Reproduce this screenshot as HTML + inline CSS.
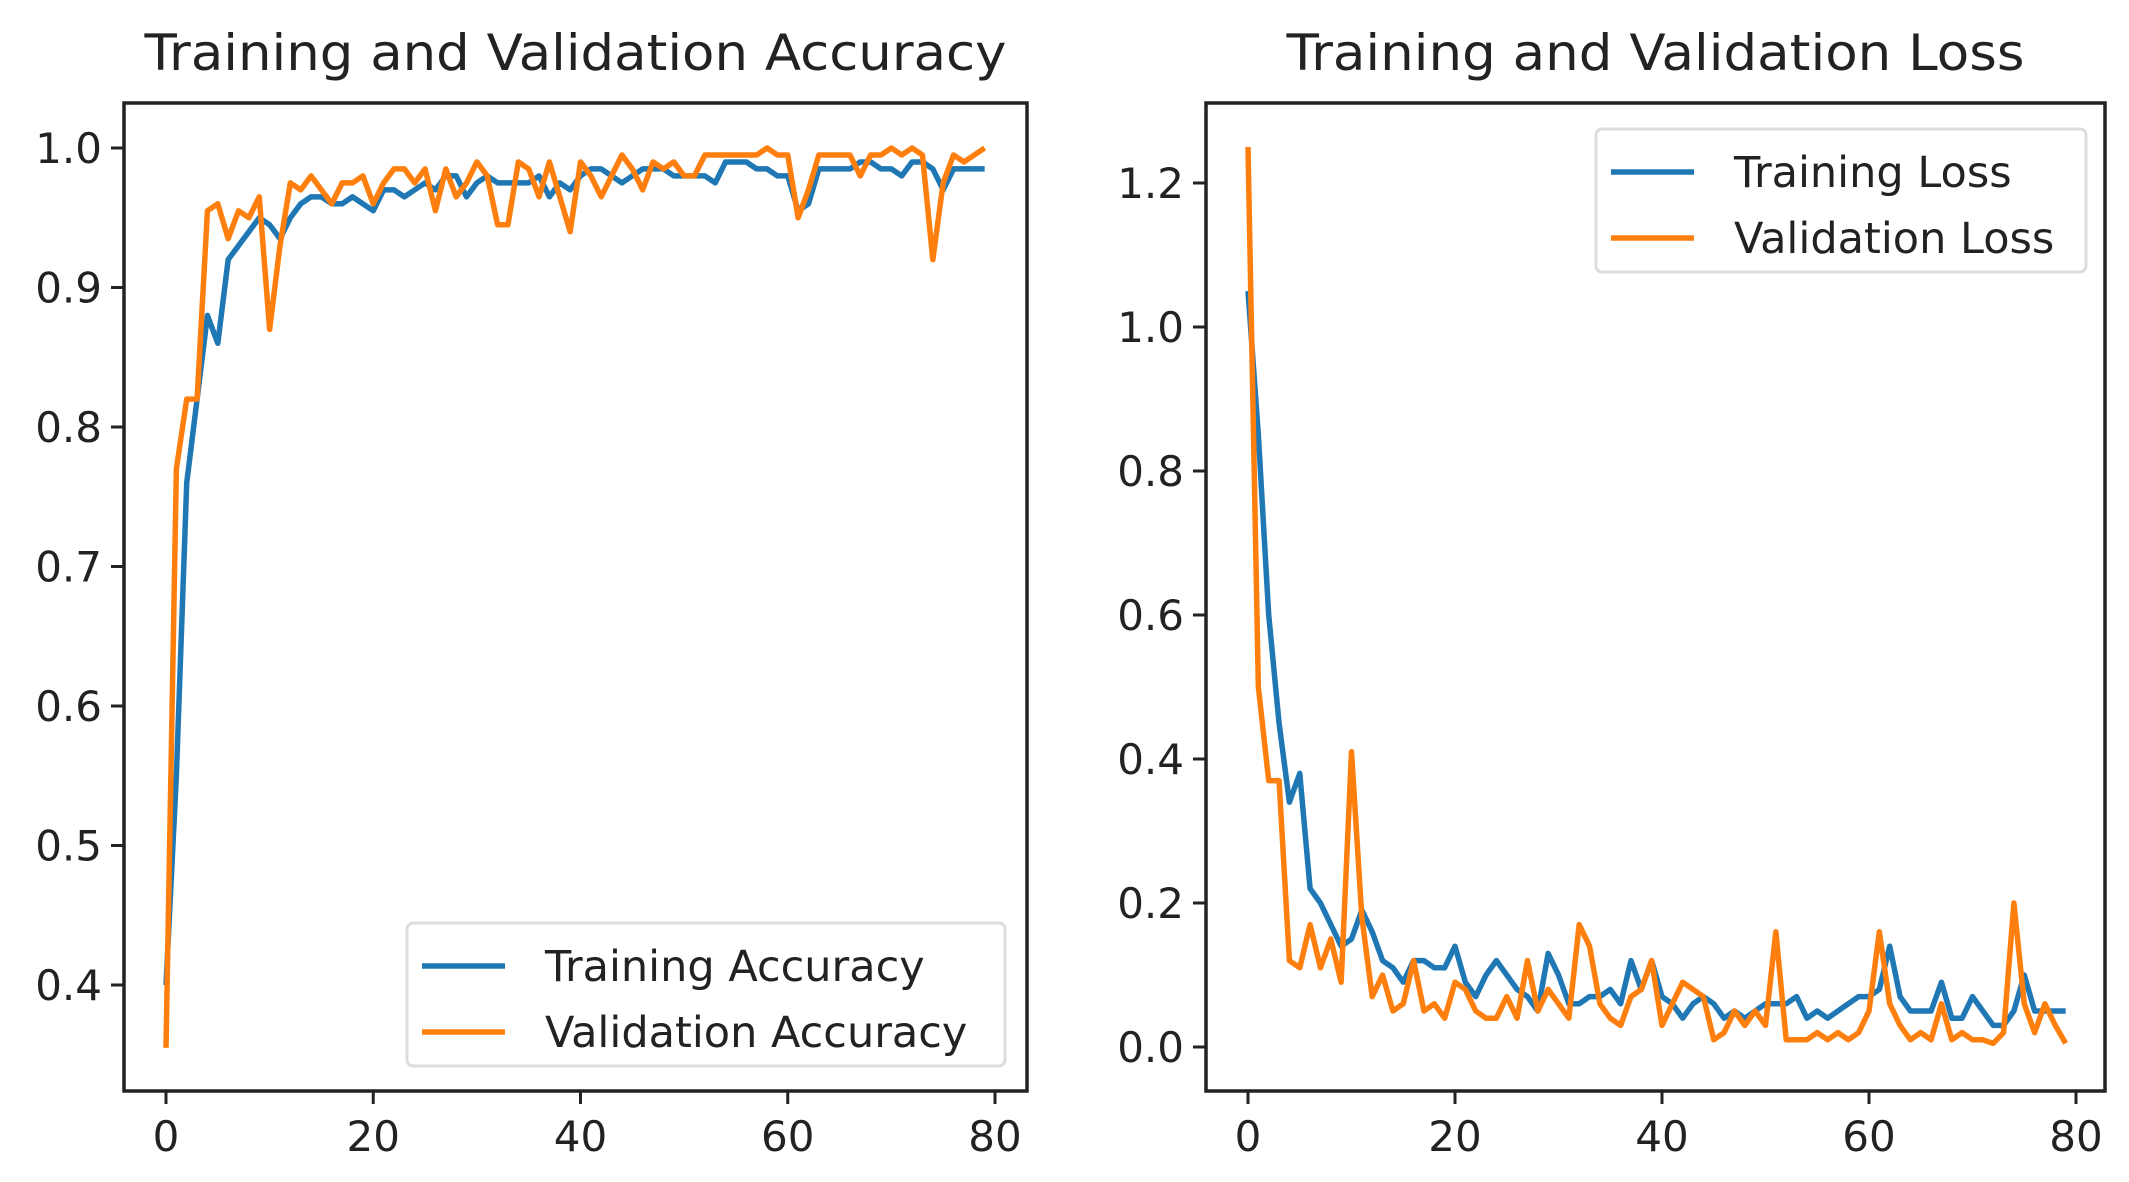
<!DOCTYPE html>
<html><head><meta charset="utf-8"><style>
html,body{margin:0;padding:0;background:#fff;}
svg{display:block;font-family:"DejaVu Sans","Liberation Sans",sans-serif;}
</style></head><body>
<svg id="fig" width="2129" height="1182" viewBox="0 0 2129 1182"></svg>
<script>
const epochs = Array.from({length:80},(_,i)=>i);
const trainAcc = [0.40,0.55,0.76,0.82,0.88,0.86,0.92,0.93,0.94,0.95,0.945,0.935,0.95,0.96,0.965,0.965,0.96,0.96,0.965,0.96,0.955,0.97,0.97,0.965,0.97,0.975,0.97,0.98,0.98,0.965,0.975,0.98,0.975,0.975,0.975,0.975,0.98,0.965,0.975,0.97,0.98,0.985,0.985,0.98,0.975,0.98,0.985,0.985,0.985,0.98,0.98,0.98,0.98,0.975,0.99,0.99,0.99,0.985,0.985,0.98,0.98,0.955,0.96,0.985,0.985,0.985,0.985,0.99,0.99,0.985,0.985,0.98,0.99,0.99,0.985,0.97,0.985,0.985,0.985,0.985];
const valAcc = [0.355,0.77,0.82,0.82,0.955,0.96,0.935,0.955,0.95,0.965,0.87,0.93,0.975,0.97,0.98,0.97,0.96,0.975,0.975,0.98,0.96,0.975,0.985,0.985,0.975,0.985,0.955,0.985,0.965,0.975,0.99,0.98,0.945,0.945,0.99,0.985,0.965,0.99,0.965,0.94,0.99,0.98,0.965,0.98,0.995,0.985,0.97,0.99,0.985,0.99,0.98,0.98,0.995,0.995,0.995,0.995,0.995,0.995,1.0,0.995,0.995,0.95,0.97,0.995,0.995,0.995,0.995,0.98,0.995,0.995,1.0,0.995,1.0,0.995,0.92,0.975,0.995,0.99,0.995,1.0];
const trainLoss = [1.05,0.85,0.6,0.45,0.34,0.38,0.22,0.2,0.17,0.14,0.15,0.19,0.16,0.12,0.11,0.09,0.12,0.12,0.11,0.11,0.14,0.09,0.07,0.1,0.12,0.1,0.08,0.07,0.05,0.13,0.1,0.06,0.06,0.07,0.07,0.08,0.06,0.12,0.08,0.12,0.07,0.06,0.04,0.06,0.07,0.06,0.04,0.05,0.04,0.05,0.06,0.06,0.06,0.07,0.04,0.05,0.04,0.05,0.06,0.07,0.07,0.08,0.14,0.07,0.05,0.05,0.05,0.09,0.04,0.04,0.07,0.05,0.03,0.03,0.05,0.1,0.05,0.05,0.05,0.05];
const valLoss = [1.25,0.5,0.37,0.37,0.12,0.11,0.17,0.11,0.15,0.09,0.41,0.18,0.07,0.1,0.05,0.06,0.12,0.05,0.06,0.04,0.09,0.08,0.05,0.04,0.04,0.07,0.04,0.12,0.05,0.08,0.06,0.04,0.17,0.14,0.06,0.04,0.03,0.07,0.08,0.12,0.03,0.06,0.09,0.08,0.07,0.01,0.02,0.05,0.03,0.05,0.03,0.16,0.01,0.01,0.01,0.02,0.01,0.02,0.01,0.02,0.05,0.16,0.06,0.03,0.01,0.02,0.01,0.06,0.01,0.02,0.01,0.01,0.005,0.02,0.2,0.06,0.02,0.06,0.03,0.005];
const xTicks = [0,20,40,60,80];
const accTicks = [0.4,0.5,0.6,0.7,0.8,0.9,1.0];
const lossTicks = [0.0,0.2,0.4,0.6,0.8,1.0,1.2];

const NS="http://www.w3.org/2000/svg";
const svg=document.getElementById('fig');
function mk(tag,attrs,parent){const e=document.createElementNS(NS,tag);for(const k in attrs)e.setAttribute(k,attrs[k]);(parent||svg).appendChild(e);return e;}

function panel(cfg){
  const g=mk('g',{});
  
  
  const sx=v=>cfg.x0px+(v-0)*(cfg.x80px-cfg.x0px)/80;
  const sy=v=>cfg.yRefPx+(cfg.yRefVal-v)*cfg.pxPerUnit;
  xTicks.forEach(t=>{
    const l=mk('line',{x1:sx(t),x2:sx(t),y1:cfg.B,y2:cfg.B+13,stroke:'#222','stroke-width':3},g);
    
    
    const tx=mk('text',{x:sx(t),y:cfg.B+60,'font-size':42,'text-anchor':'middle',fill:'#222'},g);
    tx.textContent=String(t);
    
    
  });
  cfg.yTicks.forEach(t=>{
    const l=mk('line',{x1:cfg.L-13,x2:cfg.L,y1:sy(t),y2:sy(t),stroke:'#222','stroke-width':3},g);
    
    
    const tx=mk('text',{x:cfg.L-22,y:sy(t)+15,'font-size':42,'text-anchor':'end',fill:'#222'},g);
    tx.textContent=t.toFixed(1);
    
    
  });
  const series=[[cfg.s1,'#1f77b4',cfg.n1],[cfg.s2,'#ff7f0e',cfg.n2]];
  series.forEach(([d,c,n])=>{
    const p=mk('polyline',{points:d.map((v,i)=>sx(epochs[i])+','+sy(v)).join(' '),fill:'none',stroke:c,'stroke-width':5.5,'stroke-linejoin':'round'},g);
    
    
  });
  const fr=mk('rect',{x:cfg.L,y:cfg.T,width:cfg.R-cfg.L,height:cfg.B-cfg.T,fill:'none',stroke:'#222','stroke-width':3.5},g);
  
  
  const ti=mk('text',{x:(cfg.L+cfg.R)/2,y:70,'font-size':50,'text-anchor':'middle',fill:'#222',textLength:cfg.titleLen,lengthAdjust:'spacingAndGlyphs'},g);
  ti.textContent=cfg.title;
  
  
  const lg=mk('g',{},g);
  
  
  mk('rect',{x:cfg.lx,y:cfg.ly,width:cfg.lw,height:143,rx:6,fill:'#fff','fill-opacity':0.85,stroke:'#ddd','stroke-width':3},lg);
  series.forEach(([d,c,n],i)=>{
    const yy=cfg.ly+43+i*66;
    const e=mk('g',{},lg);
    
    
    mk('line',{x1:cfg.lx+15,x2:cfg.lx+98,y1:yy,y2:yy,stroke:c,'stroke-width':5.5},e);
    const t=mk('text',{x:cfg.lx+138,y:yy+15,'font-size':43,fill:'#222'},e);
    t.textContent=cfg.labels[i];
  });
}

panel({name:'accuracy-chart',L:124,R:1027,T:103,B:1091,x0px:166,x80px:995,yRefPx:148,yRefVal:1.0,pxPerUnit:1395,
  yTicks:accTicks,s1:trainAcc,s2:valAcc,n1:'training-accuracy-line',n2:'validation-accuracy-line',
  title:'Training and Validation Accuracy',titleLen:862,lx:407,ly:923,lw:598,labels:['Training Accuracy','Validation Accuracy']});
panel({name:'loss-chart',L:1206,R:2105,T:103,B:1091,x0px:1248,x80px:2076,yRefPx:1047,yRefVal:0.0,pxPerUnit:720,
  yTicks:lossTicks,s1:trainLoss,s2:valLoss,n1:'training-loss-line',n2:'validation-loss-line',
  title:'Training and Validation Loss',titleLen:738,lx:1596,ly:129,lw:490,labels:['Training Loss','Validation Loss']});
</script>
</body></html>
